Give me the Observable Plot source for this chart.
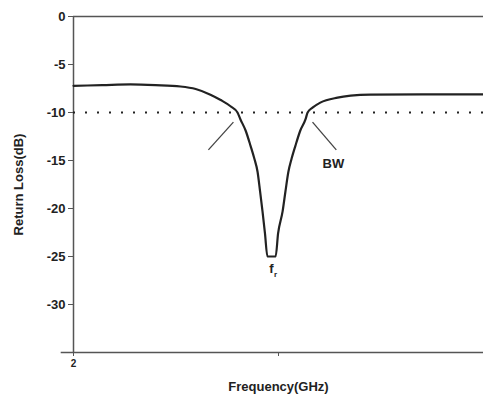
<!DOCTYPE html>
<html>
<head>
<meta charset="utf-8">
<script src="https://cdn.jsdelivr.net/npm/d3@7"></script>
<script src="https://cdn.jsdelivr.net/npm/@observablehq/plot@0.6"></script>
<style>
  html, body { margin: 0; padding: 0; background: #fff; }
  #chart svg { display: block; }
</style>
</head>
<body>
<div id="chart"></div>
<script>
// Frequency (GHz) and return loss (dB)
const freq = [2.000, 2.07, 2.139, 2.20, 2.261, 2.298, 2.334, 2.359, 2.383, 2.400, 2.407, 2.420, 2.432, 2.441, 2.449, 2.455, 2.461, 2.467, 2.473, 2.493, 2.499, 2.510, 2.517, 2.524, 2.532, 2.541, 2.553, 2.566, 2.571, 2.583, 2.602, 2.644, 2.676, 2.724, 2.85, 3.000];
const loss = [-7.22, -7.15, -7.08, -7.15, -7.29, -7.55, -8.14, -8.7, -9.35, -10.0, -10.7, -11.9, -13.5, -14.8, -16.2, -18.2, -20.3, -22.6, -25.0, -25.0, -22.6, -20.3, -18.2, -16.2, -14.8, -13.5, -11.9, -10.7, -10.0, -9.5, -8.97, -8.45, -8.25, -8.14, -8.12, -8.12];

const yTicks = [0, -5, -10, -15, -20, -25, -30, -35];
const yTickLabels = ["0", "-5", "-10", "-15", "-20", "-25", "-30", ""];
const xTicks = [2, 2.5, 3];
const xTickLabels = ["2", "", ""];
const threshold = [-10];

// annotation leader lines (data units)
const leaders = [
  {x1: 2.329, y1: -13.9, x2: 2.390, y2: -11.0},
  {x1: 2.583, y1: -11.0, x2: 2.641, y2: -13.9}
];
const bwLabel = [{x: 2.634, y: -15.3, text: "BW"}];
const frLabel = [{x: 2.483, y: -26.3, text: "f", sub: "r"}];

const data = freq.map((f, i) => ({f, v: loss[i]}));
const ink = "#222";
const font = "'Liberation Sans', Arial, sans-serif";

const chart = Plot.plot({
  width: 483,
  height: 404,
  marginLeft: 73,
  marginRight: 0,
  marginTop: 16,
  marginBottom: 52,
  style: {fontFamily: font, fontWeight: "bold", fontSize: "13px", color: ink, background: "#fff"},
  x: {domain: [2, 3]},
  y: {domain: [-35, 0]},
  marks: [
    Plot.ruleY([0], {stroke: "#555", strokeWidth: 1.5}),
    Plot.ruleY([-35], {stroke: "#555", strokeWidth: 1.5, x1: 1.97, x2: 3}),
    Plot.ruleX([2], {stroke: "#555", strokeWidth: 1.5}),
    Plot.axisY({ticks: yTicks, tickFormat: (d, i) => yTickLabels[yTicks.indexOf(d)], tickSize: 5, tickPadding: 3, stroke: "#555", fontSize: 13,
      label: "Return Loss(dB)", labelAnchor: "center", labelArrow: "none", labelOffset: 60}),
    Plot.axisX({ticks: xTicks, tickFormat: d => xTickLabels[xTicks.indexOf(d)], tickSize: 4, tickPadding: 3, stroke: "#555", fontSize: 10,
      label: null}),
    Plot.text(["Frequency(GHz)"], {frameAnchor: "bottom", dy: 38, fontSize: 13, fontWeight: "bold", fill: ink}),
    Plot.ruleY(threshold, {stroke: ink, strokeWidth: 2, strokeDasharray: "2,10"}),
    Plot.line(data, {x: "f", y: "v", stroke: ink, strokeWidth: 2.2, curve: "monotone-x"}),
    Plot.link(leaders, {x1: "x1", y1: "y1", x2: "x2", y2: "y2", stroke: "#444", strokeWidth: 1.3}),
    Plot.text(bwLabel, {x: "x", y: "y", text: "text", fontSize: 13, fontWeight: "bold", fill: ink}),
    Plot.text(frLabel, {x: "x", y: "y", text: "text", fontSize: 13, fontWeight: "bold", fill: ink}),
    Plot.text(frLabel, {x: "x", y: "y", text: "sub", dx: 4, dy: 5, fontSize: 8, fontWeight: "bold", fill: ink})
  ]
});
document.getElementById("chart").appendChild(chart);
</script>
</body>
</html>
